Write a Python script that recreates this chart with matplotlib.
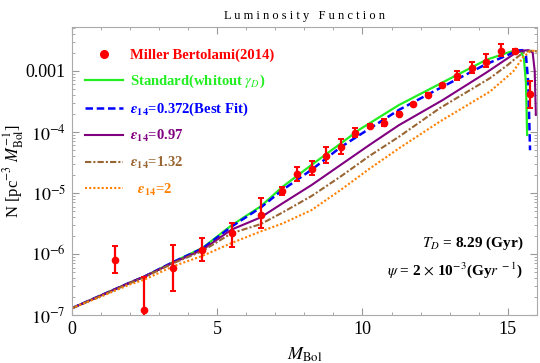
import numpy as np
import matplotlib
matplotlib.use('Agg')
import matplotlib.pyplot as plt
from matplotlib.lines import Line2D
from matplotlib.ticker import FixedLocator, FixedFormatter, LogLocator, MultipleLocator, NullFormatter

plt.rcParams['font.family'] = 'Liberation Serif'
plt.rcParams['mathtext.fontset'] = 'stix'

# Miller Bertolami (2014) data, log10 N
x_data = [1.5, 2.5, 3.5, 4.5, 5.5, 6.5, 7.25, 7.75, 8.25, 8.75, 9.25, 9.75,
          10.25, 10.75, 11.25, 11.75, 12.25, 12.75, 13.25, 13.75, 14.25, 14.75, 15.25, 15.75]
log_data = [-6.09, -6.91, -6.23, -5.93, -5.66, -5.36, -4.96, -4.69, -4.60, -4.39, -4.24, -4.02,
            -3.90, -3.85, -3.70, -3.54, -3.39, -3.23, -3.08, -2.96, -2.85, -2.67, -2.67, -3.38]
log_hi = [-5.87, -6.37, -5.86, -5.73, -5.49, -5.09, -4.90, -4.58, -4.48, -4.25, -4.12, -3.94,
          -3.87, -3.79, -3.67, -3.52, -3.37, -3.21, -3.01, -2.86, -2.72, -2.56, -2.64, -3.16]
log_lo = [-6.31, -7.40, -6.60, -6.12, -5.88, -5.58, -5.03, -4.80, -4.70, -4.51, -4.36, -4.09,
          -3.93, -3.90, -3.73, -3.56, -3.41, -3.25, -3.15, -3.03, -2.94, -2.75, -2.70, -3.61]

# model curves (log10 N)
x_std = [0, 1, 2, 2.5, 3.5, 4.5, 5.5, 6.5, 7.25, 8.25, 9.25, 9.9, 11.25, 12.75, 14.25,
         15.0, 15.3, 15.45, 15.55, 15.62, 15.66]
log_std = [-6.89, -6.68, -6.47, -6.37, -6.13, -5.90, -5.53, -5.22, -4.90, -4.54, -4.19, -3.96,
           -3.56, -3.19, -2.82, -2.70, -2.66, -2.68, -2.80, -3.20, -4.05]

x_best = [0, 1, 2, 2.5, 3.5, 4.5, 5.5, 6.5, 7.25, 8.25, 9.25, 9.9, 11.25, 12.75, 14.25,
          15.0, 15.3, 15.5, 15.62, 15.7, 15.76]
log_best = [-6.89, -6.68, -6.47, -6.37, -6.13, -5.91, -5.55, -5.24, -4.95, -4.62, -4.25, -4.05,
            -3.64, -3.26, -2.89, -2.74, -2.67, -2.66, -2.75, -3.20, -4.30]

x_097 = [0, 1, 2, 2.5, 3.5, 4.5, 5.5, 6.5, 7.25, 8.25, 9.25, 10.25, 11.25, 12.75, 14.25,
         15.0, 15.25, 15.5, 15.7, 15.85, 15.92, 15.96]
log_097 = [-6.89, -6.68, -6.47, -6.37, -6.14, -5.93, -5.60, -5.40, -5.17, -4.87, -4.54, -4.21,
           -3.89, -3.48, -3.03, -2.79, -2.71, -2.67, -2.66, -2.70, -3.00, -3.72]

x_132 = [0, 1, 2, 2.5, 3.5, 4.5, 5.5, 6.5, 7.25, 8.25, 9.25, 10.25, 11.25, 12.66, 14.38,
         15.0, 15.2, 15.5, 15.75, 16.0]
log_132 = [-6.89, -6.69, -6.48, -6.38, -6.15, -5.95, -5.66, -5.51, -5.32, -5.05, -4.73, -4.39,
           -4.08, -3.61, -3.12, -2.90, -2.82, -2.71, -2.67, -2.68]

x_2 = [0, 1, 2, 2.5, 3.5, 4.5, 5.5, 6.5, 7.25, 8.25, 9.25, 10.25, 11.25, 12.66, 14.38,
       15.18, 15.53, 15.76, 15.9, 16.0]
log_2 = [-6.89, -6.70, -6.50, -6.42, -6.20, -6.03, -5.82, -5.63, -5.50, -5.28, -4.95, -4.60,
         -4.27, -3.83, -3.34, -3.01, -2.77, -2.68, -2.67, -2.68]

y_ticks = [1e-7, 1e-6, 1e-5, 1e-4, 1e-3]
y_labels = ['$10^{-7}$', '$10^{-6}$', '$10^{-5}$', '$10^{-4}$', '0.001']

green = '#22ee22'
blue = '#0000ff'
purple = '#800080'
brown = '#996633'
orange = '#ff8000'
red = '#ff0000'

eps = r'$\boldsymbol{\epsilon}_{\mathbf{14}}$'

fig = plt.figure(figsize=(5.4, 3.63), dpi=100)
ax = fig.add_axes([0.1325, 0.132, 0.862, 0.794])

l_std, = ax.plot(x_std, 10 ** np.array(log_std), color=green, lw=1.6)
l_best, = ax.plot(x_best, 10 ** np.array(log_best), color=blue, lw=1.8, ls=(0, (3, 1.5)))
l_097, = ax.plot(x_097, 10 ** np.array(log_097), color=purple, lw=1.5)
l_132, = ax.plot(x_132, 10 ** np.array(log_132), color=brown, lw=1.5, ls=(0, (3, 1, 1, 1)))
l_2, = ax.plot(x_2, 10 ** np.array(log_2), color=orange, lw=1.5, ls=(0, (1, 1)))

yd = 10 ** np.array(log_data)
yerr = [yd - 10 ** np.array(log_lo), 10 ** np.array(log_hi) - yd]
ax.errorbar(x_data, yd, yerr=yerr, fmt='o', color=red, ms=4.5, elinewidth=1.6,
            capsize=2.5, capthick=1.4, zorder=5)

ax.set_yscale('log')
ax.set_xlim(0, 16)
ax.set_ylim(1e-7, 10 ** -2.279)

ax.yaxis.set_major_locator(FixedLocator(y_ticks))
ax.yaxis.set_major_formatter(FixedFormatter(y_labels))
ax.yaxis.set_minor_locator(LogLocator(base=10, subs=np.arange(2, 10)))
ax.yaxis.set_minor_formatter(NullFormatter())
ax.xaxis.set_major_locator(MultipleLocator(5))
ax.xaxis.set_minor_locator(MultipleLocator(1))

ax.tick_params(which='both', direction='in', top=True, right=True, color='#999999',
               labelsize=13, pad=4)
ax.tick_params(which='major', length=5)
ax.tick_params(which='minor', length=2.5)
for s in ax.spines.values():
    s.set_color('#aaaaaa')

ax.set_xlabel(r'$M_{\rm Bol}$', fontsize=13, labelpad=6)
ax.set_ylabel(r'N [pc$^{-3}$ $M_{\rm Bol}^{-1}$]', fontsize=12, labelpad=0)
ax.set_title('L u m i n o s i t y   F u n c t i o n', fontsize=9, pad=6)

dot = Line2D([], [], ls='none', marker='o', color=red, ms=5.5)
handles = [dot, l_std, l_best, l_097, l_132, l_2]
labels = ['Miller Bertolami(2014)', r'Standard(whitout $\boldsymbol{\gamma_D}$)',
          eps + '=0.372(Best Fit)', eps + '=0.97', eps + '=1.32', '  ' + eps + '=2']
leg = ax.legend(handles, labels, loc='upper left',
                bbox_to_anchor=(0.0, 0.97), frameon=False, handlelength=2.6, handletextpad=0.5,
                labelspacing=0.72, prop={'weight': 'bold', 'size': 10.5},
                labelcolor=[red, green, blue, purple, brown, orange])

ax.text(0.97, 0.25, r'$T_D$ = 8.29 (Gyr)', transform=ax.transAxes, ha='right', va='center',
        fontsize=11, fontweight='bold')
ax.text(0.97, 0.155, r'$\psi$ = 2 $\times$ 10$^{-3}$(Gy$r^{\ -1}$)', transform=ax.transAxes,
        ha='right', va='center', fontsize=11, fontweight='bold')

fig.savefig('out.png', dpi=100)
